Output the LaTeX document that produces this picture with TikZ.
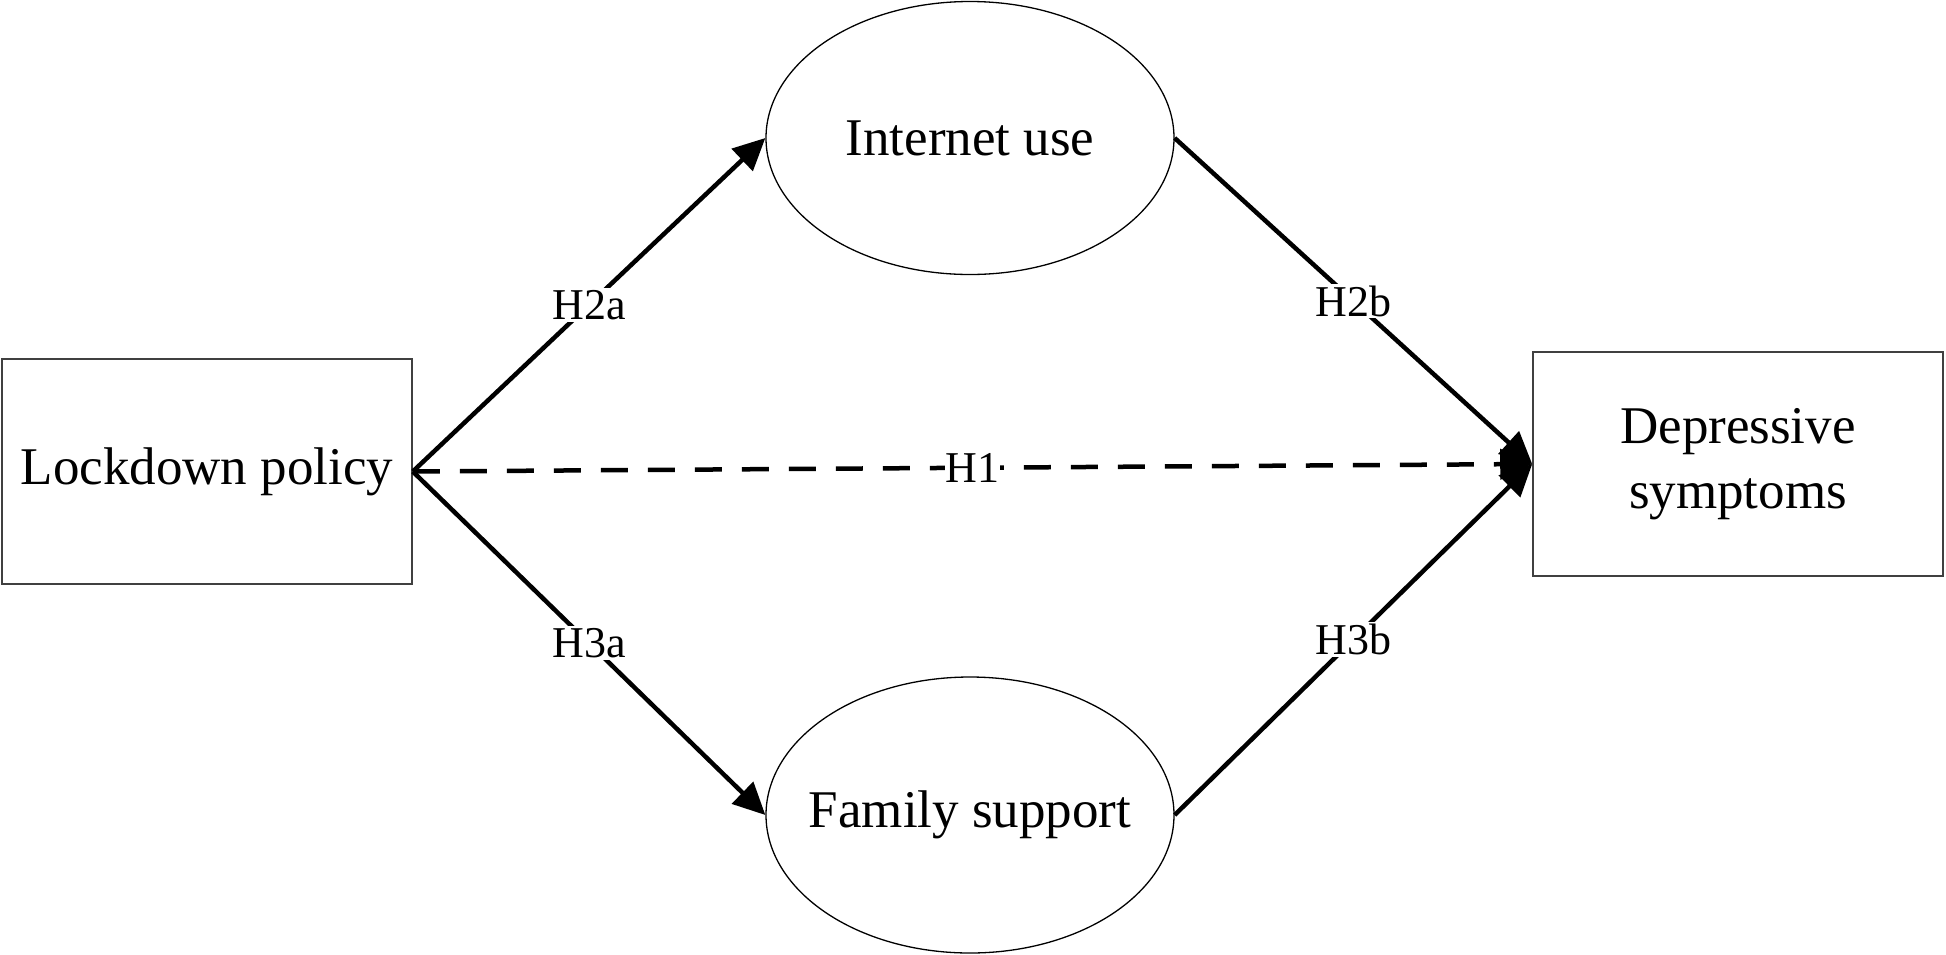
\documentclass[tikz,border=0pt]{standalone}
\usepackage{fontspec}
\setmainfont{Liberation Serif}
\usetikzlibrary{shapes.geometric,arrows.meta}
\definecolor{boxgray}{HTML}{404040}
\tikzset{
  boxnode/.style={draw=boxgray,line width=1.6pt,rectangle,minimum width=410pt,minimum height=225pt,inner sep=0pt,align=center,font=\fontsize{53}{65}\selectfont},
  ellnode/.style={draw=black,line width=1.3pt,ellipse,minimum width=408pt,minimum height=273pt,inner sep=0pt,font=\fontsize{53}{65}\selectfont},
  conn/.style={line width=4.5pt,-{Triangle[length=32pt,width=30pt]}},
  dashconn/.style={conn,dash pattern=on 27pt off 20pt},
  hlabel/.style={fill=white,inner sep=2pt,font=\fontsize{44}{50}\selectfont}
}
\begin{document}
\begin{tikzpicture}[x=1pt,y=-1pt]
\useasboundingbox (0,0) rectangle (1946,954);
\node[boxnode] (L) at (207,471.5) {Lockdown policy};
\node[boxnode,minimum height=224pt] (D) at (1738,464) {Depressive\\symptoms};
\node[ellnode] (I) at (970,138) {\makebox[0pt]{Internet use}};
\node[ellnode,minimum height=276pt] (F) at (970,815) {\makebox[0pt]{Family support}};
\draw[conn] (L.east) -- node[hlabel] (h2a) {H2a} (I.west);
\draw[conn] (I.east) -- node[hlabel] (h2b) {H2b} (D.west);
\draw[conn] (L.east) -- node[hlabel] (h3a) {H3a} (F.west);
\draw[conn] (F.east) -- node[hlabel] (h3b) {H3b} (D.west);
\draw[dashconn] (L.east) -- node[hlabel,inner sep=1pt] (h1) {H1} (D.west);
\end{tikzpicture}
\end{document}
